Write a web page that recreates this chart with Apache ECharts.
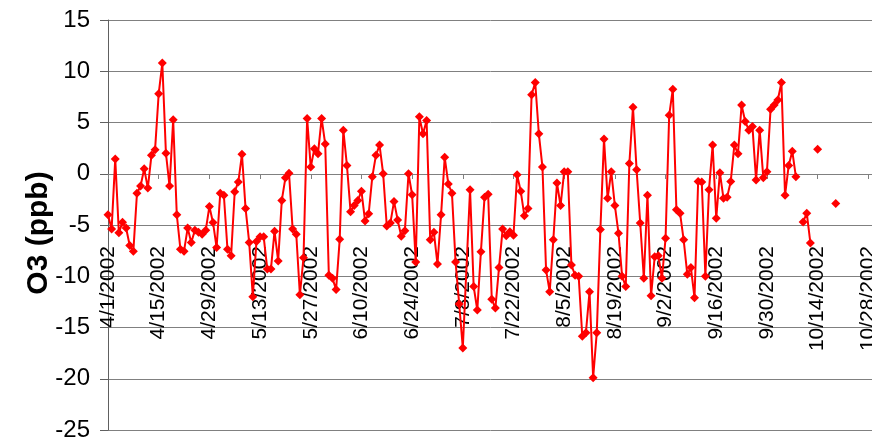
<!DOCTYPE html>
<html>
<head>
<meta charset="utf-8">
<script src="https://cdn.jsdelivr.net/npm/echarts@6/dist/echarts.min.js"></script>
<style>
  html, body { margin: 0; padding: 0; background: #fff; }
  #chart { width: 872px; height: 439px; }
</style>
</head>
<body>
<div id="chart"></div>
<script>
// x tick labels, one every 14 days from 4/1/2002
const tickLabels = ['4/1/2002', '4/15/2002', '4/29/2002', '5/13/2002', '5/27/2002', '6/10/2002',
  '6/24/2002', '7/8/2002', '7/22/2002', '8/5/2002', '8/19/2002', '9/2/2002', '9/16/2002',
  '9/30/2002', '10/14/2002', '10/28/2002', '11/11/2002']

// day number counted from 4/1/2002
const days = [
  0, 1, 2, 3, 4, 5, 6, 7, 8, 9, 10, 11, 12, 13, 14, 15, 16, 17, 18, 19,
  20, 21, 22, 23, 24, 25, 26, 27, 28, 29, 30, 31, 32, 33, 34, 35, 36, 37, 38, 39,
  40, 41, 42, 43, 44, 45, 46, 47, 48, 49, 50, 51, 52, 53, 54, 55, 56, 57, 58, 59,
  60, 61, 62, 63, 64, 65, 66, 67, 68, 69, 70, 71, 72, 73, 74, 75, 76, 77, 78, 79,
  80, 81, 82, 83, 84, 85, 86, 87, 88, 89, 90, 91, 92, 93, 94, 95, 96, 97, 98,
  100, 101, 102, 103, 104, 105, 106, 107, 108, 109, 110, 111, 112, 113, 114, 115, 116, 117, 118, 119,
  120, 121, 122, 123, 124, 125, 126, 127, 128, 129, 130, 131, 132, 133, 134, 135, 136, 137, 138, 139,
  140, 141, 142, 143, 144, 145, 146, 147, 148, 149, 150, 151, 152, 153, 154, 155, 156, 157, 158, 159,
  160, 161, 162, 163, 164, 165, 166, 167, 168, 169, 170, 171, 172, 173, 174, 175, 176, 177, 178, 179,
  180, 181, 182, 183, 184, 185, 186, 187, 188, 189, 190, 191, 192, 193, 194, 195, 196, 197, 201
]

// O3 (ppb), null = no value (line broken)
const o3 = [
  -4.0, -5.4, 1.45, -5.75, -4.74, -5.3, -7.0, -7.55, -1.9, -1.2, 0.5, -1.4, 1.8, 2.35, 7.8, 10.8, 2.0, -1.2, 5.26, -4.0,
  -7.36, -7.55, -5.3, -6.7, -5.5, -5.7, -5.9, -5.5, -3.2, -4.75, -7.2, -1.9, -2.1, -7.36, -8.0, -1.75, -0.8, 1.9, -3.4, -6.7,
  -12.0, -6.6, -6.15, -6.15, -9.3, -9.3, -5.6, -8.5, -2.6, -0.4, 0.05, -5.4, -5.9, -11.8, -8.2, 5.4, 0.65, 2.45, 1.96, 5.4,
  2.9, -9.9, -10.2, -11.3, -6.4, 4.25, 0.8, -3.7, -3.1, -2.6, -1.7, -4.6, -3.9, -0.3, 1.8, 2.8, 0.0, -5.1, -4.8, -2.7,
  -4.5, -6.1, -5.55, 0.0, -2.05, -8.6, 5.55, 3.9, 5.2, -6.45, -5.7, -8.8, -4.0, 1.6, -1.0, -1.9, -8.6, -12.7, -17.0,
  -1.55, -11.0, -13.3, -7.6, -2.3, -2.0, -12.25, -13.1, -9.15, -5.4, -6.05, -5.65, -6.0, -0.1, -1.7, -4.1, -3.4, 7.7, 8.9, 3.9,
  0.65, -9.4, -11.5, -6.45, -0.9, -3.1, 0.2, 0.2, -8.9, -9.9, -10.0, -15.85, -15.5, -11.5, -19.9, -15.5, -5.45, 3.4, -2.4, 0.2,
  -3.1, -5.8, -10.0, -11.0, 1.0, 6.5, 0.4, -4.8, -10.2, -2.1, -11.9, -8.1, -8.0, -10.2, -6.3, 5.7, 8.25, -3.5, -3.85, -6.45,
  -9.8, -9.15, -12.1, -0.75, -0.8, -10.0, -1.55, 2.8, -4.35, 0.1, -2.4, -2.3, -0.75, 2.8, 1.95, 6.7, 5.1, 4.25, 4.6, -0.6,
  4.25, -0.4, 0.2, 6.3, 6.7, 7.2, 8.9, -2.1, 0.8, 2.2, -0.3, null, -4.7, -3.85, -6.75, null, 2.4, null, -2.9
]

const font = 'Liberation Sans, Arial, sans-serif'

const chart = echarts.init(document.getElementById('chart'))

const option = {
  backgroundColor: '#fff',
  animation: false,
  grid: {
    left: 108,
    top: 20,
    bottom: 9,
    right: -47,
    containLabel: false,
    outerBoundsMode: 'none'
  },
  xAxis: {
    type: 'value',
    position: 'bottom',
    // axis sits on y = 0 (grid bottom is y = -25)
    offset: -256,
    min: 0,
    max: 224,
    interval: 14,
    splitLine: { show: false },
    axisLine: { onZero: false, lineStyle: { color: '#808080', width: 1 } },
    axisTick: { show: true, length: 5, lineStyle: { color: '#808080' } },
    axisLabel: {
      rotate: 90,
      margin: 72,
      fontSize: 21,
      fontFamily: font,
      color: '#000',
      hideOverlap: false,
      showMinLabel: true,
      showMaxLabel: true,
      formatter: (v) => tickLabels[Math.round(v / 14)]
    }
  },
  yAxis: {
    type: 'value',
    min: -25,
    max: 15,
    interval: 5,
    name: 'O3 (ppb)',
    nameLocation: 'middle',
    nameGap: 54,
    nameMoveOverlap: false,
    nameTextStyle: { fontSize: 30, fontWeight: 'bold', fontFamily: font, color: '#000', padding: [0, 16, 0, 0] },
    axisLine: { show: true, lineStyle: { color: '#606060', width: 1 } },
    axisTick: { show: true, length: 8, lineStyle: { color: '#606060' } },
    splitLine: { show: true, lineStyle: { color: '#808080', width: 1 } },
    axisLabel: { fontSize: 24, fontFamily: font, color: '#000', margin: 18 }
  },
  series: [
    {
      type: 'line',
      data: days.map((d, i) => [d, o3[i]]),
      connectNulls: false,
      symbol: 'diamond',
      symbolSize: 9,
      itemStyle: { color: '#ff0000' },
      lineStyle: { color: '#ff0000', width: 2 }
    }
  ]
}

chart.setOption(option)
</script>
</body>
</html>
